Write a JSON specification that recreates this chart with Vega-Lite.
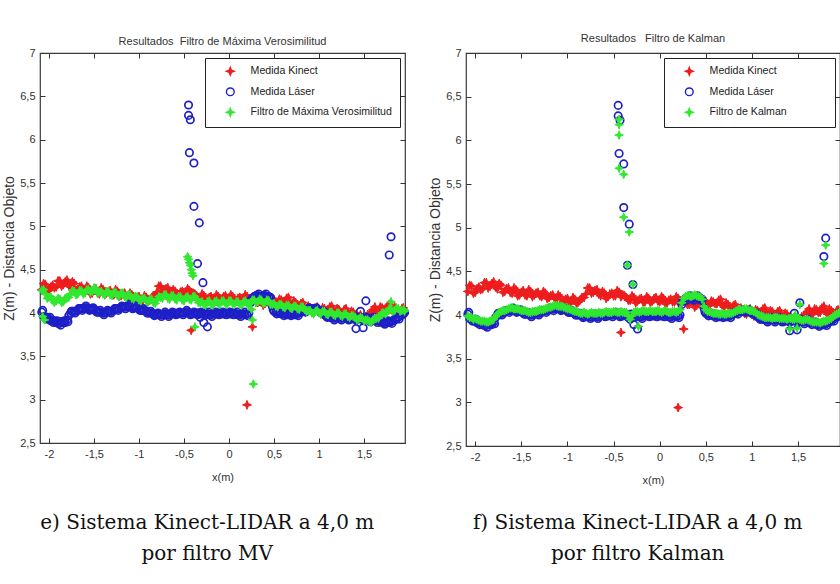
{
"$schema":"https://vega.github.io/schema/vega-lite/v6.json",
"background":"white",
"padding":{"left":2,"top":32,"right":0,"bottom":0},
"config":{
 "view":{"stroke":"#3a3a3a","strokeWidth":1.2},
 "axis":{"grid":false,"domain":false,"labelFont":"Liberation Sans","labelFontSize":11,"labelColor":"#333","tickColor":"#333","tickSize":-5,"labelPadding":10,"titleFontWeight":"normal","titleColor":"#333"},
 "title":{"font":"Liberation Sans","fontSize":11,"fontWeight":"normal","color":"#333"},
 "legend":{"orient":"top-right","offset":5,"fillColor":"white","strokeColor":"#222","padding":8,"labelFont":"Liberation Sans","labelFontSize":10.6,"labelColor":"#222","labelLimit":400,"symbolSize":60,"symbolStrokeWidth":1.4,"rowPadding":6.5,"labelOffset":15,"symbolOffset":12}
},
"datasets":{
"kinect":[{"x":-2.08,"y":4.27,"s":"K"},{"x":-2.04,"y":4.33,"s":"K"},{"x":-2.0,"y":4.26,"s":"K"},{"x":-1.96,"y":4.32,"s":"K"},{"x":-1.92,"y":4.3,"s":"K"},{"x":-1.88,"y":4.37,"s":"K"},{"x":-1.84,"y":4.33,"s":"K"},{"x":-1.8,"y":4.38,"s":"K"},{"x":-1.76,"y":4.3,"s":"K"},{"x":-1.72,"y":4.34,"s":"K"},{"x":-1.68,"y":4.27,"s":"K"},{"x":-1.64,"y":4.31,"s":"K"},{"x":-1.6,"y":4.25,"s":"K"},{"x":-1.56,"y":4.29,"s":"K"},{"x":-1.52,"y":4.23,"s":"K"},{"x":-1.48,"y":4.28,"s":"K"},{"x":-1.44,"y":4.22,"s":"K"},{"x":-1.4,"y":4.27,"s":"K"},{"x":-1.36,"y":4.23,"s":"K"},{"x":-1.32,"y":4.26,"s":"K"},{"x":-1.28,"y":4.21,"s":"K"},{"x":-1.24,"y":4.25,"s":"K"},{"x":-1.2,"y":4.2,"s":"K"},{"x":-1.16,"y":4.23,"s":"K"},{"x":-1.12,"y":4.18,"s":"K"},{"x":-1.08,"y":4.21,"s":"K"},{"x":-1.04,"y":4.15,"s":"K"},{"x":-1.0,"y":4.19,"s":"K"},{"x":-0.96,"y":4.14,"s":"K"},{"x":-0.92,"y":4.18,"s":"K"},{"x":-0.88,"y":4.15,"s":"K"},{"x":-0.84,"y":4.2,"s":"K"},{"x":-0.8,"y":4.24,"s":"K"},{"x":-0.76,"y":4.31,"s":"K"},{"x":-0.72,"y":4.26,"s":"K"},{"x":-0.68,"y":4.29,"s":"K"},{"x":-0.64,"y":4.22,"s":"K"},{"x":-0.6,"y":4.25,"s":"K"},{"x":-0.56,"y":4.21,"s":"K"},{"x":-0.52,"y":4.25,"s":"K"},{"x":-0.48,"y":4.22,"s":"K"},{"x":-0.44,"y":4.26,"s":"K"},{"x":-0.4,"y":4.23,"s":"K"},{"x":-0.36,"y":4.2,"s":"K"},{"x":-0.32,"y":4.17,"s":"K"},{"x":-0.28,"y":4.2,"s":"K"},{"x":-0.24,"y":4.16,"s":"K"},{"x":-0.2,"y":4.19,"s":"K"},{"x":-0.16,"y":4.15,"s":"K"},{"x":-0.12,"y":4.19,"s":"K"},{"x":-0.08,"y":4.16,"s":"K"},{"x":-0.04,"y":4.2,"s":"K"},{"x":0.0,"y":4.15,"s":"K"},{"x":0.04,"y":4.19,"s":"K"},{"x":0.08,"y":4.14,"s":"K"},{"x":0.12,"y":4.18,"s":"K"},{"x":0.16,"y":4.15,"s":"K"},{"x":0.2,"y":4.19,"s":"K"},{"x":0.24,"y":4.14,"s":"K"},{"x":0.28,"y":4.16,"s":"K"},{"x":0.32,"y":4.12,"s":"K"},{"x":0.36,"y":4.15,"s":"K"},{"x":0.4,"y":4.11,"s":"K"},{"x":0.44,"y":4.14,"s":"K"},{"x":0.48,"y":4.1,"s":"K"},{"x":0.52,"y":4.13,"s":"K"},{"x":0.56,"y":4.16,"s":"K"},{"x":0.6,"y":4.13,"s":"K"},{"x":0.64,"y":4.17,"s":"K"},{"x":0.68,"y":4.11,"s":"K"},{"x":0.72,"y":4.14,"s":"K"},{"x":0.76,"y":4.09,"s":"K"},{"x":0.8,"y":4.11,"s":"K"},{"x":0.84,"y":4.06,"s":"K"},{"x":0.88,"y":4.08,"s":"K"},{"x":0.92,"y":4.02,"s":"K"},{"x":0.96,"y":4.05,"s":"K"},{"x":1.0,"y":4.01,"s":"K"},{"x":1.04,"y":4.06,"s":"K"},{"x":1.08,"y":4.03,"s":"K"},{"x":1.12,"y":4.07,"s":"K"},{"x":1.16,"y":4.02,"s":"K"},{"x":1.2,"y":4.05,"s":"K"},{"x":1.24,"y":4.01,"s":"K"},{"x":1.28,"y":4.04,"s":"K"},{"x":1.32,"y":3.99,"s":"K"},{"x":1.36,"y":4.02,"s":"K"},{"x":1.4,"y":3.98,"s":"K"},{"x":1.44,"y":3.96,"s":"K"},{"x":1.48,"y":3.93,"s":"K"},{"x":1.52,"y":3.96,"s":"K"},{"x":1.56,"y":3.99,"s":"K"},{"x":1.6,"y":4.04,"s":"K"},{"x":1.64,"y":4.02,"s":"K"},{"x":1.68,"y":4.07,"s":"K"},{"x":1.72,"y":4.03,"s":"K"},{"x":1.76,"y":4.08,"s":"K"},{"x":1.8,"y":4.04,"s":"K"},{"x":1.84,"y":4.07,"s":"K"},{"x":1.88,"y":4.02,"s":"K"},{"x":1.92,"y":4.05,"s":"K"},{"x":1.95,"y":3.99,"s":"K"},
{"x":-2.06,"y":4.34,"s":"K"},{"x":-2.02,"y":4.25,"s":"K"},{"x":-1.98,"y":4.3,"s":"K"},{"x":-1.94,"y":4.29,"s":"K"},{"x":-1.9,"y":4.37,"s":"K"},{"x":-1.86,"y":4.31,"s":"K"},{"x":-1.82,"y":4.36,"s":"K"},{"x":-1.78,"y":4.32,"s":"K"},{"x":-1.74,"y":4.36,"s":"K"},{"x":-1.7,"y":4.26,"s":"K"},{"x":-1.66,"y":4.3,"s":"K"},{"x":-1.62,"y":4.26,"s":"K"},{"x":-1.58,"y":4.31,"s":"K"},{"x":-1.54,"y":4.22,"s":"K"},{"x":-1.5,"y":4.26,"s":"K"},{"x":-1.46,"y":4.23,"s":"K"},{"x":-1.42,"y":4.29,"s":"K"},{"x":-1.38,"y":4.21,"s":"K"},{"x":-1.34,"y":4.25,"s":"K"},{"x":-1.3,"y":4.22,"s":"K"},{"x":-1.26,"y":4.27,"s":"K"},{"x":-1.22,"y":4.19,"s":"K"},{"x":-1.18,"y":4.22,"s":"K"},{"x":-1.14,"y":4.19,"s":"K"},{"x":-1.1,"y":4.23,"s":"K"},{"x":-1.06,"y":4.14,"s":"K"},{"x":-1.02,"y":4.18,"s":"K"},{"x":-0.98,"y":4.15,"s":"K"},{"x":-0.94,"y":4.2,"s":"K"},{"x":-0.9,"y":4.13,"s":"K"},{"x":-0.86,"y":4.18,"s":"K"},{"x":-0.82,"y":4.2,"s":"K"},{"x":-0.78,"y":4.31,"s":"K"},{"x":-0.74,"y":4.25,"s":"K"},{"x":-0.7,"y":4.28,"s":"K"},{"x":-0.66,"y":4.24,"s":"K"},{"x":-0.62,"y":4.27,"s":"K"},{"x":-0.58,"y":4.19,"s":"K"},{"x":-0.54,"y":4.24,"s":"K"},{"x":-0.5,"y":4.22,"s":"K"},{"x":-0.46,"y":4.28,"s":"K"},{"x":-0.42,"y":4.21,"s":"K"},{"x":-0.38,"y":4.22,"s":"K"},{"x":-0.34,"y":4.17,"s":"K"},{"x":-0.3,"y":4.22,"s":"K"},{"x":-0.26,"y":4.14,"s":"K"},{"x":-0.22,"y":4.18,"s":"K"},{"x":-0.18,"y":4.15,"s":"K"},{"x":-0.14,"y":4.21,"s":"K"},{"x":-0.1,"y":4.14,"s":"K"},{"x":-0.06,"y":4.19,"s":"K"},{"x":-0.02,"y":4.16,"s":"K"},{"x":0.02,"y":4.21,"s":"K"},{"x":0.06,"y":4.13,"s":"K"},{"x":0.1,"y":4.17,"s":"K"},{"x":0.14,"y":4.15,"s":"K"},{"x":0.18,"y":4.21,"s":"K"},{"x":0.22,"y":4.13,"s":"K"},{"x":0.26,"y":4.16,"s":"K"},{"x":0.3,"y":4.12,"s":"K"},{"x":0.34,"y":4.17,"s":"K"},{"x":0.38,"y":4.09,"s":"K"},{"x":0.42,"y":4.13,"s":"K"},{"x":0.46,"y":4.1,"s":"K"},{"x":0.5,"y":4.15,"s":"K"},{"x":0.54,"y":4.11,"s":"K"},{"x":0.58,"y":4.15,"s":"K"},{"x":0.62,"y":4.13,"s":"K"},{"x":0.66,"y":4.18,"s":"K"},{"x":0.7,"y":4.09,"s":"K"},{"x":0.74,"y":4.12,"s":"K"},{"x":0.78,"y":4.08,"s":"K"},{"x":0.82,"y":4.12,"s":"K"},{"x":0.86,"y":4.03,"s":"K"},{"x":0.9,"y":4.06,"s":"K"},{"x":0.94,"y":4.01,"s":"K"},{"x":0.98,"y":4.07,"s":"K"},{"x":1.02,"y":3.99,"s":"K"},{"x":1.06,"y":4.05,"s":"K"},{"x":1.1,"y":4.03,"s":"K"},{"x":1.14,"y":4.08,"s":"K"},{"x":1.18,"y":4.0,"s":"K"},{"x":1.22,"y":4.04,"s":"K"},{"x":1.26,"y":4.0,"s":"K"},{"x":1.3,"y":4.05,"s":"K"},{"x":1.34,"y":3.97,"s":"K"},{"x":1.38,"y":4.01,"s":"K"},{"x":1.42,"y":3.95,"s":"K"},{"x":1.46,"y":3.98,"s":"K"},{"x":1.5,"y":3.91,"s":"K"},{"x":1.54,"y":3.98,"s":"K"},{"x":1.58,"y":4.0,"s":"K"},{"x":1.62,"y":4.07,"s":"K"},{"x":1.66,"y":4.01,"s":"K"},{"x":1.7,"y":4.06,"s":"K"},{"x":1.74,"y":4.03,"s":"K"},{"x":1.78,"y":4.1,"s":"K"},{"x":1.82,"y":4.01,"s":"K"},{"x":1.86,"y":4.05,"s":"K"},{"x":1.9,"y":4.01,"s":"K"},{"x":1.935,"y":4.06,"s":"K"},
{"x":-0.42,"y":3.8,"s":"K"},{"x":0.26,"y":3.84,"s":"K"},{"x":0.2,"y":2.94,"s":"K"}],
"laser":[{"x":-2.08,"y":4.01,"s":"L"},{"x":-2.04,"y":3.95,"s":"L"},{"x":-2.0,"y":3.93,"s":"L"},{"x":-1.96,"y":3.91,"s":"L"},{"x":-1.92,"y":3.89,"s":"L"},{"x":-1.88,"y":3.88,"s":"L"},{"x":-1.84,"y":3.89,"s":"L"},{"x":-1.8,"y":3.92,"s":"L"},{"x":-1.76,"y":4.0,"s":"L"},{"x":-1.72,"y":4.02,"s":"L"},{"x":-1.68,"y":4.03,"s":"L"},{"x":-1.64,"y":4.05,"s":"L"},{"x":-1.6,"y":4.06,"s":"L"},{"x":-1.56,"y":4.05,"s":"L"},{"x":-1.52,"y":4.04,"s":"L"},{"x":-1.48,"y":4.03,"s":"L"},{"x":-1.44,"y":4.01,"s":"L"},{"x":-1.4,"y":4.0,"s":"L"},{"x":-1.36,"y":4.01,"s":"L"},{"x":-1.32,"y":4.02,"s":"L"},{"x":-1.28,"y":4.03,"s":"L"},{"x":-1.24,"y":4.05,"s":"L"},{"x":-1.2,"y":4.06,"s":"L"},{"x":-1.16,"y":4.07,"s":"L"},{"x":-1.12,"y":4.08,"s":"L"},{"x":-1.08,"y":4.07,"s":"L"},{"x":-1.04,"y":4.06,"s":"L"},{"x":-1.0,"y":4.05,"s":"L"},{"x":-0.96,"y":4.03,"s":"L"},{"x":-0.92,"y":4.02,"s":"L"},{"x":-0.88,"y":4.0,"s":"L"},{"x":-0.84,"y":3.99,"s":"L"},{"x":-0.8,"y":3.98,"s":"L"},{"x":-0.76,"y":3.98,"s":"L"},{"x":-0.72,"y":3.99,"s":"L"},{"x":-0.68,"y":3.98,"s":"L"},{"x":-0.64,"y":3.99,"s":"L"},{"x":-0.6,"y":4.0,"s":"L"},{"x":-0.56,"y":3.99,"s":"L"},{"x":-0.52,"y":4.0,"s":"L"},{"x":-0.48,"y":4.01,"s":"L"},{"x":-0.44,"y":4.0,"s":"L"},{"x":-0.4,"y":3.99,"s":"L"},{"x":-0.36,"y":4.0,"s":"L"},{"x":-0.32,"y":3.99,"s":"L"},{"x":-0.28,"y":4.0,"s":"L"},{"x":-0.24,"y":3.99,"s":"L"},{"x":-0.2,"y":3.98,"s":"L"},{"x":-0.16,"y":3.99,"s":"L"},{"x":-0.12,"y":4.0,"s":"L"},{"x":-0.08,"y":3.99,"s":"L"},{"x":-0.04,"y":4.0,"s":"L"},{"x":0.0,"y":3.99,"s":"L"},{"x":0.04,"y":4.0,"s":"L"},{"x":0.08,"y":3.99,"s":"L"},{"x":0.12,"y":3.98,"s":"L"},{"x":0.16,"y":3.99,"s":"L"},{"x":0.2,"y":3.99,"s":"L"},{"x":0.24,"y":4.12,"s":"L"},{"x":0.28,"y":4.19,"s":"L"},{"x":0.32,"y":4.2,"s":"L"},{"x":0.36,"y":4.19,"s":"L"},{"x":0.4,"y":4.2,"s":"L"},{"x":0.44,"y":4.19,"s":"L"},{"x":0.48,"y":4.08,"s":"L"},{"x":0.52,"y":4.01,"s":"L"},{"x":0.56,"y":4.0,"s":"L"},{"x":0.6,"y":3.99,"s":"L"},{"x":0.64,"y":3.98,"s":"L"},{"x":0.68,"y":3.99,"s":"L"},{"x":0.72,"y":3.98,"s":"L"},{"x":0.76,"y":3.99,"s":"L"},{"x":0.8,"y":4.01,"s":"L"},{"x":0.84,"y":4.03,"s":"L"},{"x":0.88,"y":4.04,"s":"L"},{"x":0.92,"y":4.05,"s":"L"},{"x":0.96,"y":4.04,"s":"L"},{"x":1.0,"y":4.03,"s":"L"},{"x":1.04,"y":4.0,"s":"L"},{"x":1.08,"y":3.97,"s":"L"},{"x":1.12,"y":3.95,"s":"L"},{"x":1.16,"y":3.94,"s":"L"},{"x":1.2,"y":3.95,"s":"L"},{"x":1.24,"y":3.94,"s":"L"},{"x":1.28,"y":3.95,"s":"L"},{"x":1.32,"y":3.94,"s":"L"},{"x":1.36,"y":3.93,"s":"L"},{"x":1.4,"y":3.94,"s":"L"},{"x":1.44,"y":3.93,"s":"L"},{"x":1.48,"y":3.94,"s":"L"},{"x":1.52,"y":3.93,"s":"L"},{"x":1.56,"y":3.92,"s":"L"},{"x":1.6,"y":3.93,"s":"L"},{"x":1.64,"y":3.91,"s":"L"},{"x":1.68,"y":3.9,"s":"L"},{"x":1.72,"y":3.89,"s":"L"},{"x":1.76,"y":3.89,"s":"L"},{"x":1.8,"y":3.9,"s":"L"},{"x":1.84,"y":3.92,"s":"L"},{"x":1.88,"y":3.95,"s":"L"},{"x":1.92,"y":3.98,"s":"L"},{"x":1.95,"y":4.01,"s":"L"},
{"x":-2.06,"y":3.96,"s":"L"},{"x":-2.02,"y":3.95,"s":"L"},{"x":-1.98,"y":3.91,"s":"L"},{"x":-1.94,"y":3.91,"s":"L"},{"x":-1.9,"y":3.88,"s":"L"},{"x":-1.86,"y":3.9,"s":"L"},{"x":-1.82,"y":3.89,"s":"L"},{"x":-1.78,"y":3.97,"s":"L"},{"x":-1.74,"y":4.02,"s":"L"},{"x":-1.7,"y":4.02,"s":"L"},{"x":-1.66,"y":4.05,"s":"L"},{"x":-1.62,"y":4.05,"s":"L"},{"x":-1.58,"y":4.06,"s":"L"},{"x":-1.54,"y":4.04,"s":"L"},{"x":-1.5,"y":4.04,"s":"L"},{"x":-1.46,"y":4.01,"s":"L"},{"x":-1.42,"y":4.01,"s":"L"},{"x":-1.38,"y":4.0,"s":"L"},{"x":-1.34,"y":4.02,"s":"L"},{"x":-1.3,"y":4.02,"s":"L"},{"x":-1.26,"y":4.05,"s":"L"},{"x":-1.22,"y":4.05,"s":"L"},{"x":-1.18,"y":4.07,"s":"L"},{"x":-1.14,"y":4.07,"s":"L"},{"x":-1.1,"y":4.08,"s":"L"},{"x":-1.06,"y":4.06,"s":"L"},{"x":-1.02,"y":4.06,"s":"L"},{"x":-0.98,"y":4.03,"s":"L"},{"x":-0.94,"y":4.03,"s":"L"},{"x":-0.9,"y":4.0,"s":"L"},{"x":-0.86,"y":4.0,"s":"L"},{"x":-0.82,"y":3.98,"s":"L"},{"x":-0.78,"y":3.99,"s":"L"},{"x":-0.74,"y":3.98,"s":"L"},{"x":-0.7,"y":3.99,"s":"L"},{"x":-0.66,"y":3.98,"s":"L"},{"x":-0.62,"y":4.0,"s":"L"},{"x":-0.58,"y":3.99,"s":"L"},{"x":-0.54,"y":4.0,"s":"L"},{"x":-0.5,"y":4.0,"s":"L"},{"x":-0.46,"y":4.01,"s":"L"},{"x":-0.42,"y":3.99,"s":"L"},{"x":-0.38,"y":4.0,"s":"L"},{"x":-0.34,"y":4.0,"s":"L"},{"x":-0.3,"y":3.99,"s":"L"},{"x":-0.26,"y":4.0,"s":"L"},{"x":-0.22,"y":3.98,"s":"L"},{"x":-0.18,"y":3.99,"s":"L"},{"x":-0.14,"y":3.99,"s":"L"},{"x":-0.1,"y":4.0,"s":"L"},{"x":-0.06,"y":3.99,"s":"L"},{"x":-0.02,"y":4.0,"s":"L"},{"x":0.02,"y":3.99,"s":"L"},{"x":0.06,"y":4.0,"s":"L"},{"x":0.1,"y":3.98,"s":"L"},{"x":0.14,"y":3.99,"s":"L"},{"x":0.18,"y":3.98,"s":"L"},{"x":0.22,"y":4.0,"s":"L"},{"x":0.26,"y":4.17,"s":"L"},{"x":0.3,"y":4.2,"s":"L"},{"x":0.34,"y":4.19,"s":"L"},{"x":0.38,"y":4.2,"s":"L"},{"x":0.42,"y":4.19,"s":"L"},{"x":0.46,"y":4.18,"s":"L"},{"x":0.5,"y":4.02,"s":"L"},{"x":0.54,"y":4.01,"s":"L"},{"x":0.58,"y":3.99,"s":"L"},{"x":0.62,"y":3.99,"s":"L"},{"x":0.66,"y":3.98,"s":"L"},{"x":0.7,"y":3.99,"s":"L"},{"x":0.74,"y":3.98,"s":"L"},{"x":0.78,"y":4.0,"s":"L"},{"x":0.82,"y":4.02,"s":"L"},{"x":0.86,"y":4.04,"s":"L"},{"x":0.9,"y":4.04,"s":"L"},{"x":0.94,"y":4.05,"s":"L"},{"x":0.98,"y":4.03,"s":"L"},{"x":1.02,"y":4.02,"s":"L"},{"x":1.06,"y":3.98,"s":"L"},{"x":1.1,"y":3.96,"s":"L"},{"x":1.14,"y":3.95,"s":"L"},{"x":1.18,"y":3.94,"s":"L"},{"x":1.22,"y":3.95,"s":"L"},{"x":1.26,"y":3.94,"s":"L"},{"x":1.3,"y":3.95,"s":"L"},{"x":1.34,"y":3.93,"s":"L"},{"x":1.38,"y":3.94,"s":"L"},{"x":1.42,"y":3.93,"s":"L"},{"x":1.46,"y":3.94,"s":"L"},{"x":1.5,"y":3.93,"s":"L"},{"x":1.54,"y":3.93,"s":"L"},{"x":1.58,"y":3.92,"s":"L"},{"x":1.62,"y":3.92,"s":"L"},{"x":1.66,"y":3.91,"s":"L"},{"x":1.7,"y":3.89,"s":"L"},{"x":1.74,"y":3.9,"s":"L"},{"x":1.78,"y":3.89,"s":"L"},{"x":1.82,"y":3.91,"s":"L"},{"x":1.86,"y":3.93,"s":"L"},{"x":1.9,"y":3.97,"s":"L"},{"x":1.94,"y":3.99,"s":"L"},
{"x":-2.07,"y":4.03,"s":"L"},{"x":-2.03,"y":3.93,"s":"L"},{"x":-1.99,"y":3.95,"s":"L"},{"x":-1.95,"y":3.89,"s":"L"},{"x":-1.91,"y":3.91,"s":"L"},{"x":-1.87,"y":3.86,"s":"L"},{"x":-1.83,"y":3.91,"s":"L"},{"x":-1.79,"y":3.9,"s":"L"},{"x":-1.75,"y":4.02,"s":"L"},{"x":-1.71,"y":4.0,"s":"L"},{"x":-1.67,"y":4.05,"s":"L"},{"x":-1.63,"y":4.03,"s":"L"},{"x":-1.59,"y":4.08,"s":"L"},{"x":-1.55,"y":4.03,"s":"L"},{"x":-1.51,"y":4.06,"s":"L"},{"x":-1.47,"y":4.01,"s":"L"},{"x":-1.43,"y":4.03,"s":"L"},{"x":-1.39,"y":3.98,"s":"L"},{"x":-1.35,"y":4.03,"s":"L"},{"x":-1.31,"y":4.0,"s":"L"},{"x":-1.27,"y":4.05,"s":"L"},{"x":-1.23,"y":4.03,"s":"L"},{"x":-1.19,"y":4.08,"s":"L"},{"x":-1.15,"y":4.05,"s":"L"},{"x":-1.11,"y":4.1,"s":"L"},{"x":-1.07,"y":4.05,"s":"L"},{"x":-1.03,"y":4.08,"s":"L"},{"x":-0.99,"y":4.03,"s":"L"},{"x":-0.95,"y":4.05,"s":"L"},{"x":-0.91,"y":4.0,"s":"L"},{"x":-0.87,"y":4.02,"s":"L"},{"x":-0.83,"y":3.97,"s":"L"},{"x":-0.79,"y":4.0,"s":"L"},{"x":-0.75,"y":3.96,"s":"L"},{"x":-0.71,"y":4.01,"s":"L"},{"x":-0.67,"y":3.96,"s":"L"},{"x":-0.63,"y":4.01,"s":"L"},{"x":-0.59,"y":3.98,"s":"L"},{"x":-0.55,"y":4.01,"s":"L"},{"x":-0.51,"y":3.98,"s":"L"},{"x":-0.47,"y":4.03,"s":"L"},{"x":-0.43,"y":3.98,"s":"L"},{"x":-0.39,"y":4.01,"s":"L"},{"x":-0.35,"y":3.98,"s":"L"},{"x":-0.31,"y":4.01,"s":"L"},{"x":-0.27,"y":3.98,"s":"L"},{"x":-0.23,"y":4.01,"s":"L"},{"x":-0.19,"y":3.96,"s":"L"},{"x":-0.15,"y":4.01,"s":"L"},{"x":-0.11,"y":3.98,"s":"L"},{"x":-0.07,"y":4.01,"s":"L"},{"x":-0.03,"y":3.98,"s":"L"},{"x":0.01,"y":4.01,"s":"L"},{"x":0.05,"y":3.98,"s":"L"},{"x":0.09,"y":4.01,"s":"L"},{"x":0.13,"y":3.96,"s":"L"},{"x":0.17,"y":4.01,"s":"L"},{"x":0.21,"y":3.97,"s":"L"},{"x":0.25,"y":4.16,"s":"L"},{"x":0.29,"y":4.17,"s":"L"},{"x":0.33,"y":4.22,"s":"L"},{"x":0.37,"y":4.17,"s":"L"},{"x":0.41,"y":4.22,"s":"L"},{"x":0.45,"y":4.17,"s":"L"},{"x":0.49,"y":4.04,"s":"L"},{"x":0.53,"y":3.99,"s":"L"},{"x":0.57,"y":4.02,"s":"L"},{"x":0.61,"y":3.97,"s":"L"},{"x":0.65,"y":4.0,"s":"L"},{"x":0.69,"y":3.97,"s":"L"},{"x":0.73,"y":4.0,"s":"L"},{"x":0.77,"y":3.97,"s":"L"},{"x":0.81,"y":4.03,"s":"L"},{"x":0.85,"y":4.01,"s":"L"},{"x":0.89,"y":4.06,"s":"L"},{"x":0.93,"y":4.03,"s":"L"},{"x":0.97,"y":4.06,"s":"L"},{"x":1.01,"y":4.01,"s":"L"},{"x":1.05,"y":4.02,"s":"L"},{"x":1.09,"y":3.95,"s":"L"},{"x":1.13,"y":3.97,"s":"L"},{"x":1.17,"y":3.92,"s":"L"},{"x":1.21,"y":3.97,"s":"L"},{"x":1.25,"y":3.92,"s":"L"},{"x":1.29,"y":3.97,"s":"L"},{"x":1.33,"y":3.92,"s":"L"},{"x":1.37,"y":3.95,"s":"L"},{"x":1.41,"y":3.92,"s":"L"},{"x":1.45,"y":3.95,"s":"L"},{"x":1.49,"y":3.92,"s":"L"},{"x":1.53,"y":3.95,"s":"L"},{"x":1.57,"y":3.9,"s":"L"},{"x":1.61,"y":3.95,"s":"L"},{"x":1.65,"y":3.89,"s":"L"},{"x":1.69,"y":3.92,"s":"L"},{"x":1.73,"y":3.87,"s":"L"},{"x":1.77,"y":3.91,"s":"L"},{"x":1.81,"y":3.88,"s":"L"},{"x":1.85,"y":3.94,"s":"L"},{"x":1.89,"y":3.93,"s":"L"},{"x":1.93,"y":4.0,"s":"L"},
{"x":-0.45,"y":6.4,"s":"L"},{"x":-0.45,"y":6.28,"s":"L"},{"x":-0.43,"y":6.23,"s":"L"},{"x":-0.44,"y":5.85,"s":"L"},{"x":-0.39,"y":5.73,"s":"L"},{"x":-0.39,"y":5.23,"s":"L"},{"x":-0.33,"y":5.04,"s":"L"},{"x":-0.35,"y":4.57,"s":"L"},{"x":-0.29,"y":4.35,"s":"L"},{"x":-0.32,"y":3.95,"s":"L"},{"x":-0.28,"y":3.89,"s":"L"},{"x":-0.24,"y":3.84,"s":"L"},{"x":1.41,"y":3.82,"s":"L"},{"x":1.49,"y":3.83,"s":"L"},{"x":1.52,"y":4.14,"s":"L"},{"x":1.46,"y":4.02,"s":"L"},{"x":1.8,"y":4.88,"s":"L"},{"x":1.78,"y":4.67,"s":"L"}],
"mv":[{"x":-2.07,"y":3.96,"s":"F"},{"x":-2.05,"y":3.92,"s":"F"},{"x":-2.08,"y":4.26,"s":"F"},{"x":-2.04,"y":4.22,"s":"F"},{"x":-2.0,"y":4.18,"s":"F"},{"x":-1.96,"y":4.15,"s":"F"},{"x":-1.92,"y":4.14,"s":"F"},{"x":-1.88,"y":4.16,"s":"F"},{"x":-1.84,"y":4.13,"s":"F"},{"x":-1.8,"y":4.18,"s":"F"},{"x":-1.76,"y":4.22,"s":"F"},{"x":-1.72,"y":4.25,"s":"F"},{"x":-1.68,"y":4.22,"s":"F"},{"x":-1.64,"y":4.26,"s":"F"},{"x":-1.6,"y":4.23,"s":"F"},{"x":-1.56,"y":4.27,"s":"F"},{"x":-1.52,"y":4.25,"s":"F"},{"x":-1.48,"y":4.28,"s":"F"},{"x":-1.44,"y":4.24,"s":"F"},{"x":-1.4,"y":4.22,"s":"F"},{"x":-1.36,"y":4.25,"s":"F"},{"x":-1.32,"y":4.21,"s":"F"},{"x":-1.28,"y":4.24,"s":"F"},{"x":-1.24,"y":4.2,"s":"F"},{"x":-1.2,"y":4.23,"s":"F"},{"x":-1.16,"y":4.19,"s":"F"},{"x":-1.12,"y":4.21,"s":"F"},{"x":-1.08,"y":4.17,"s":"F"},{"x":-1.04,"y":4.19,"s":"F"},{"x":-1.0,"y":4.15,"s":"F"},{"x":-0.96,"y":4.17,"s":"F"},{"x":-0.92,"y":4.14,"s":"F"},{"x":-0.88,"y":4.16,"s":"F"},{"x":-0.84,"y":4.12,"s":"F"},{"x":-0.8,"y":4.15,"s":"F"},{"x":-0.76,"y":4.18,"s":"F"},{"x":-0.72,"y":4.21,"s":"F"},{"x":-0.68,"y":4.17,"s":"F"},{"x":-0.64,"y":4.2,"s":"F"},{"x":-0.6,"y":4.16,"s":"F"},{"x":-0.56,"y":4.19,"s":"F"},{"x":-0.52,"y":4.15,"s":"F"},{"x":-0.48,"y":4.18,"s":"F"},{"x":-0.44,"y":4.16,"s":"F"},{"x":-0.4,"y":4.19,"s":"F"},{"x":-0.36,"y":4.16,"s":"F"},{"x":-0.32,"y":4.12,"s":"F"},{"x":-0.28,"y":4.1,"s":"F"},{"x":-0.24,"y":4.13,"s":"F"},{"x":-0.2,"y":4.1,"s":"F"},{"x":-0.16,"y":4.13,"s":"F"},{"x":-0.12,"y":4.11,"s":"F"},{"x":-0.08,"y":4.14,"s":"F"},{"x":-0.04,"y":4.11,"s":"F"},{"x":0.0,"y":4.14,"s":"F"},{"x":0.04,"y":4.11,"s":"F"},{"x":0.08,"y":4.13,"s":"F"},{"x":0.12,"y":4.1,"s":"F"},{"x":0.16,"y":4.13,"s":"F"},{"x":0.2,"y":4.11,"s":"F"},{"x":0.24,"y":4.12,"s":"F"},{"x":0.28,"y":4.15,"s":"F"},{"x":0.32,"y":4.13,"s":"F"},{"x":0.36,"y":4.15,"s":"F"},{"x":0.4,"y":4.12,"s":"F"},{"x":0.44,"y":4.14,"s":"F"},{"x":0.48,"y":4.1,"s":"F"},{"x":0.52,"y":4.08,"s":"F"},{"x":0.56,"y":4.1,"s":"F"},{"x":0.6,"y":4.07,"s":"F"},{"x":0.64,"y":4.09,"s":"F"},{"x":0.68,"y":4.06,"s":"F"},{"x":0.72,"y":4.08,"s":"F"},{"x":0.76,"y":4.05,"s":"F"},{"x":0.8,"y":4.07,"s":"F"},{"x":0.84,"y":4.04,"s":"F"},{"x":0.88,"y":4.03,"s":"F"},{"x":0.92,"y":4.0,"s":"F"},{"x":0.96,"y":4.02,"s":"F"},{"x":1.0,"y":4.0,"s":"F"},{"x":1.04,"y":4.02,"s":"F"},{"x":1.08,"y":3.99,"s":"F"},{"x":1.12,"y":4.01,"s":"F"},{"x":1.16,"y":3.98,"s":"F"},{"x":1.2,"y":4.0,"s":"F"},{"x":1.24,"y":3.97,"s":"F"},{"x":1.28,"y":3.99,"s":"F"},{"x":1.32,"y":3.96,"s":"F"},{"x":1.36,"y":3.97,"s":"F"},{"x":1.4,"y":3.95,"s":"F"},{"x":1.44,"y":3.93,"s":"F"},{"x":1.48,"y":3.94,"s":"F"},{"x":1.52,"y":3.92,"s":"F"},{"x":1.56,"y":3.9,"s":"F"},{"x":1.6,"y":3.92,"s":"F"},{"x":1.64,"y":3.94,"s":"F"},{"x":1.68,"y":3.97,"s":"F"},{"x":1.72,"y":4.0,"s":"F"},{"x":1.76,"y":4.02,"s":"F"},{"x":1.8,"y":4.04,"s":"F"},{"x":1.84,"y":4.03,"s":"F"},{"x":1.88,"y":4.05,"s":"F"},{"x":1.92,"y":4.03,"s":"F"},{"x":1.95,"y":4.02,"s":"F"},
{"x":-2.06,"y":4.27,"s":"F"},{"x":-2.02,"y":4.17,"s":"F"},{"x":-1.98,"y":4.19,"s":"F"},{"x":-1.94,"y":4.12,"s":"F"},{"x":-1.9,"y":4.17,"s":"F"},{"x":-1.86,"y":4.12,"s":"F"},{"x":-1.82,"y":4.17,"s":"F"},{"x":-1.78,"y":4.18,"s":"F"},{"x":-1.74,"y":4.26,"s":"F"},{"x":-1.7,"y":4.21,"s":"F"},{"x":-1.66,"y":4.26,"s":"F"},{"x":-1.62,"y":4.22,"s":"F"},{"x":-1.58,"y":4.27,"s":"F"},{"x":-1.54,"y":4.24,"s":"F"},{"x":-1.5,"y":4.29,"s":"F"},{"x":-1.46,"y":4.23,"s":"F"},{"x":-1.42,"y":4.25,"s":"F"},{"x":-1.38,"y":4.21,"s":"F"},{"x":-1.34,"y":4.25,"s":"F"},{"x":-1.3,"y":4.2,"s":"F"},{"x":-1.26,"y":4.24,"s":"F"},{"x":-1.22,"y":4.19,"s":"F"},{"x":-1.18,"y":4.23,"s":"F"},{"x":-1.14,"y":4.18,"s":"F"},{"x":-1.1,"y":4.21,"s":"F"},{"x":-1.06,"y":4.16,"s":"F"},{"x":-1.02,"y":4.19,"s":"F"},{"x":-0.98,"y":4.14,"s":"F"},{"x":-0.94,"y":4.17,"s":"F"},{"x":-0.9,"y":4.13,"s":"F"},{"x":-0.86,"y":4.16,"s":"F"},{"x":-0.82,"y":4.11,"s":"F"},{"x":-0.78,"y":4.19,"s":"F"},{"x":-0.74,"y":4.17,"s":"F"},{"x":-0.7,"y":4.21,"s":"F"},{"x":-0.66,"y":4.16,"s":"F"},{"x":-0.62,"y":4.2,"s":"F"},{"x":-0.58,"y":4.15,"s":"F"},{"x":-0.54,"y":4.19,"s":"F"},{"x":-0.5,"y":4.14,"s":"F"},{"x":-0.46,"y":4.19,"s":"F"},{"x":-0.42,"y":4.15,"s":"F"},{"x":-0.38,"y":4.19,"s":"F"},{"x":-0.34,"y":4.12,"s":"F"},{"x":-0.3,"y":4.13,"s":"F"},{"x":-0.26,"y":4.09,"s":"F"},{"x":-0.22,"y":4.14,"s":"F"},{"x":-0.18,"y":4.09,"s":"F"},{"x":-0.14,"y":4.14,"s":"F"},{"x":-0.1,"y":4.1,"s":"F"},{"x":-0.06,"y":4.14,"s":"F"},{"x":-0.02,"y":4.1,"s":"F"},{"x":0.02,"y":4.14,"s":"F"},{"x":0.06,"y":4.1,"s":"F"},{"x":0.1,"y":4.13,"s":"F"},{"x":0.14,"y":4.09,"s":"F"},{"x":0.18,"y":4.14,"s":"F"},{"x":0.22,"y":4.1,"s":"F"},{"x":0.26,"y":4.15,"s":"F"},{"x":0.3,"y":4.12,"s":"F"},{"x":0.34,"y":4.16,"s":"F"},{"x":0.38,"y":4.11,"s":"F"},{"x":0.42,"y":4.15,"s":"F"},{"x":0.46,"y":4.1,"s":"F"},{"x":0.5,"y":4.11,"s":"F"},{"x":0.54,"y":4.07,"s":"F"},{"x":0.58,"y":4.1,"s":"F"},{"x":0.62,"y":4.06,"s":"F"},{"x":0.66,"y":4.09,"s":"F"},{"x":0.7,"y":4.05,"s":"F"},{"x":0.74,"y":4.08,"s":"F"},{"x":0.78,"y":4.04,"s":"F"},{"x":0.82,"y":4.07,"s":"F"},{"x":0.86,"y":4.02,"s":"F"},{"x":0.9,"y":4.03,"s":"F"},{"x":0.94,"y":3.99,"s":"F"},{"x":0.98,"y":4.03,"s":"F"},{"x":1.02,"y":3.99,"s":"F"},{"x":1.06,"y":4.02,"s":"F"},{"x":1.1,"y":3.98,"s":"F"},{"x":1.14,"y":4.01,"s":"F"},{"x":1.18,"y":3.97,"s":"F"},{"x":1.22,"y":4.0,"s":"F"},{"x":1.26,"y":3.96,"s":"F"},{"x":1.3,"y":3.99,"s":"F"},{"x":1.34,"y":3.95,"s":"F"},{"x":1.38,"y":3.97,"s":"F"},{"x":1.42,"y":3.92,"s":"F"},{"x":1.46,"y":3.95,"s":"F"},{"x":1.5,"y":3.91,"s":"F"},{"x":1.54,"y":3.92,"s":"F"},{"x":1.58,"y":3.89,"s":"F"},{"x":1.62,"y":3.94,"s":"F"},{"x":1.66,"y":3.94,"s":"F"},{"x":1.7,"y":4.0,"s":"F"},{"x":1.74,"y":3.99,"s":"F"},{"x":1.78,"y":4.05,"s":"F"},{"x":1.82,"y":4.02,"s":"F"},{"x":1.86,"y":4.06,"s":"F"},{"x":1.9,"y":4.02,"s":"F"},{"x":1.94,"y":4.04,"s":"F"},
{"x":-0.46,"y":4.65,"s":"F"},{"x":-0.45,"y":4.62,"s":"F"},{"x":-0.44,"y":4.58,"s":"F"},{"x":-0.43,"y":4.55,"s":"F"},{"x":-0.42,"y":4.5,"s":"F"},{"x":-0.41,"y":4.46,"s":"F"},{"x":-0.4,"y":4.43,"s":"F"},{"x":-0.38,"y":3.84,"s":"F"},{"x":0.25,"y":4.04,"s":"F"},{"x":0.26,"y":3.92,"s":"F"},{"x":0.27,"y":3.18,"s":"F"},{"x":1.8,"y":4.13,"s":"F"}],
"kal":[{"x":-2.08,"y":3.99,"s":"F"},{"x":-2.04,"y":3.97,"s":"F"},{"x":-2.0,"y":3.96,"s":"F"},{"x":-1.96,"y":3.94,"s":"F"},{"x":-1.92,"y":3.93,"s":"F"},{"x":-1.88,"y":3.92,"s":"F"},{"x":-1.84,"y":3.93,"s":"F"},{"x":-1.8,"y":3.95,"s":"F"},{"x":-1.76,"y":4.01,"s":"F"},{"x":-1.72,"y":4.04,"s":"F"},{"x":-1.68,"y":4.05,"s":"F"},{"x":-1.64,"y":4.07,"s":"F"},{"x":-1.6,"y":4.08,"s":"F"},{"x":-1.56,"y":4.07,"s":"F"},{"x":-1.52,"y":4.06,"s":"F"},{"x":-1.48,"y":4.05,"s":"F"},{"x":-1.44,"y":4.04,"s":"F"},{"x":-1.4,"y":4.03,"s":"F"},{"x":-1.36,"y":4.04,"s":"F"},{"x":-1.32,"y":4.05,"s":"F"},{"x":-1.28,"y":4.06,"s":"F"},{"x":-1.24,"y":4.07,"s":"F"},{"x":-1.2,"y":4.09,"s":"F"},{"x":-1.16,"y":4.1,"s":"F"},{"x":-1.12,"y":4.11,"s":"F"},{"x":-1.08,"y":4.1,"s":"F"},{"x":-1.04,"y":4.09,"s":"F"},{"x":-1.0,"y":4.07,"s":"F"},{"x":-0.96,"y":4.06,"s":"F"},{"x":-0.92,"y":4.04,"s":"F"},{"x":-0.88,"y":4.03,"s":"F"},{"x":-0.84,"y":4.02,"s":"F"},{"x":-0.8,"y":4.02,"s":"F"},{"x":-0.76,"y":4.02,"s":"F"},{"x":-0.72,"y":4.02,"s":"F"},{"x":-0.68,"y":4.02,"s":"F"},{"x":-0.64,"y":4.02,"s":"F"},{"x":-0.6,"y":4.03,"s":"F"},{"x":-0.56,"y":4.03,"s":"F"},{"x":-0.52,"y":4.03,"s":"F"},{"x":-0.48,"y":4.04,"s":"F"},{"x":-0.44,"y":4.03,"s":"F"},{"x":-0.4,"y":4.03,"s":"F"},{"x":-0.36,"y":4.03,"s":"F"},{"x":-0.32,"y":3.95,"s":"F"},{"x":-0.28,"y":4.03,"s":"F"},{"x":-0.24,"y":4.04,"s":"F"},{"x":-0.2,"y":4.04,"s":"F"},{"x":-0.16,"y":4.04,"s":"F"},{"x":-0.12,"y":4.04,"s":"F"},{"x":-0.08,"y":4.04,"s":"F"},{"x":-0.04,"y":4.04,"s":"F"},{"x":0.0,"y":4.04,"s":"F"},{"x":0.04,"y":4.04,"s":"F"},{"x":0.08,"y":4.04,"s":"F"},{"x":0.12,"y":4.03,"s":"F"},{"x":0.16,"y":4.04,"s":"F"},{"x":0.2,"y":4.04,"s":"F"},{"x":0.24,"y":4.14,"s":"F"},{"x":0.28,"y":4.21,"s":"F"},{"x":0.32,"y":4.22,"s":"F"},{"x":0.36,"y":4.22,"s":"F"},{"x":0.4,"y":4.22,"s":"F"},{"x":0.44,"y":4.21,"s":"F"},{"x":0.48,"y":4.1,"s":"F"},{"x":0.52,"y":4.04,"s":"F"},{"x":0.56,"y":4.03,"s":"F"},{"x":0.6,"y":4.02,"s":"F"},{"x":0.64,"y":4.01,"s":"F"},{"x":0.68,"y":4.02,"s":"F"},{"x":0.72,"y":4.01,"s":"F"},{"x":0.76,"y":4.02,"s":"F"},{"x":0.8,"y":4.03,"s":"F"},{"x":0.84,"y":4.05,"s":"F"},{"x":0.88,"y":4.06,"s":"F"},{"x":0.92,"y":4.07,"s":"F"},{"x":0.96,"y":4.06,"s":"F"},{"x":1.0,"y":4.05,"s":"F"},{"x":1.04,"y":4.03,"s":"F"},{"x":1.08,"y":4.0,"s":"F"},{"x":1.12,"y":3.98,"s":"F"},{"x":1.16,"y":3.97,"s":"F"},{"x":1.2,"y":3.97,"s":"F"},{"x":1.24,"y":3.97,"s":"F"},{"x":1.28,"y":3.97,"s":"F"},{"x":1.32,"y":3.96,"s":"F"},{"x":1.36,"y":3.96,"s":"F"},{"x":1.4,"y":3.96,"s":"F"},{"x":1.44,"y":3.95,"s":"F"},{"x":1.48,"y":3.96,"s":"F"},{"x":1.52,"y":3.95,"s":"F"},{"x":1.56,"y":3.94,"s":"F"},{"x":1.6,"y":3.95,"s":"F"},{"x":1.64,"y":3.93,"s":"F"},{"x":1.68,"y":3.92,"s":"F"},{"x":1.72,"y":3.92,"s":"F"},{"x":1.76,"y":3.92,"s":"F"},{"x":1.8,"y":3.93,"s":"F"},{"x":1.84,"y":3.95,"s":"F"},{"x":1.88,"y":3.98,"s":"F"},{"x":1.92,"y":4.01,"s":"F"},{"x":1.95,"y":4.03,"s":"F"},
{"x":-2.06,"y":3.97,"s":"F"},{"x":-2.02,"y":3.95,"s":"F"},{"x":-1.98,"y":3.95,"s":"F"},{"x":-1.94,"y":3.93,"s":"F"},{"x":-1.9,"y":3.93,"s":"F"},{"x":-1.86,"y":3.92,"s":"F"},{"x":-1.82,"y":3.94,"s":"F"},{"x":-1.78,"y":3.98,"s":"F"},{"x":-1.74,"y":4.03,"s":"F"},{"x":-1.7,"y":4.05,"s":"F"},{"x":-1.66,"y":4.06,"s":"F"},{"x":-1.62,"y":4.08,"s":"F"},{"x":-1.58,"y":4.07,"s":"F"},{"x":-1.54,"y":4.07,"s":"F"},{"x":-1.5,"y":4.05,"s":"F"},{"x":-1.46,"y":4.05,"s":"F"},{"x":-1.42,"y":4.03,"s":"F"},{"x":-1.38,"y":4.04,"s":"F"},{"x":-1.34,"y":4.04,"s":"F"},{"x":-1.3,"y":4.06,"s":"F"},{"x":-1.26,"y":4.06,"s":"F"},{"x":-1.22,"y":4.08,"s":"F"},{"x":-1.18,"y":4.09,"s":"F"},{"x":-1.14,"y":4.11,"s":"F"},{"x":-1.1,"y":4.1,"s":"F"},{"x":-1.06,"y":4.1,"s":"F"},{"x":-1.02,"y":4.08,"s":"F"},{"x":-0.98,"y":4.07,"s":"F"},{"x":-0.94,"y":4.05,"s":"F"},{"x":-0.9,"y":4.04,"s":"F"},{"x":-0.86,"y":4.02,"s":"F"},{"x":-0.82,"y":4.03,"s":"F"},{"x":-0.78,"y":4.01,"s":"F"},{"x":-0.74,"y":4.03,"s":"F"},{"x":-0.7,"y":4.02,"s":"F"},{"x":-0.66,"y":4.03,"s":"F"},{"x":-0.62,"y":4.02,"s":"F"},{"x":-0.58,"y":4.04,"s":"F"},{"x":-0.54,"y":4.03,"s":"F"},{"x":-0.5,"y":4.04,"s":"F"},{"x":-0.46,"y":4.03,"s":"F"},{"x":-0.42,"y":4.04,"s":"F"},{"x":-0.38,"y":4.03,"s":"F"},{"x":-0.34,"y":3.99,"s":"F"},{"x":-0.3,"y":3.99,"s":"F"},{"x":-0.26,"y":4.04,"s":"F"},{"x":-0.22,"y":4.03,"s":"F"},{"x":-0.18,"y":4.05,"s":"F"},{"x":-0.14,"y":4.04,"s":"F"},{"x":-0.1,"y":4.05,"s":"F"},{"x":-0.06,"y":4.04,"s":"F"},{"x":-0.02,"y":4.05,"s":"F"},{"x":0.02,"y":4.03,"s":"F"},{"x":0.06,"y":4.05,"s":"F"},{"x":0.1,"y":4.03,"s":"F"},{"x":0.14,"y":4.04,"s":"F"},{"x":0.18,"y":4.03,"s":"F"},{"x":0.22,"y":4.06,"s":"F"},{"x":0.26,"y":4.19,"s":"F"},{"x":0.3,"y":4.22,"s":"F"},{"x":0.34,"y":4.21,"s":"F"},{"x":0.38,"y":4.23,"s":"F"},{"x":0.42,"y":4.21,"s":"F"},{"x":0.46,"y":4.18,"s":"F"},{"x":0.5,"y":4.06,"s":"F"},{"x":0.54,"y":4.04,"s":"F"},{"x":0.58,"y":4.02,"s":"F"},{"x":0.62,"y":4.02,"s":"F"},{"x":0.66,"y":4.01,"s":"F"},{"x":0.7,"y":4.01,"s":"F"},{"x":0.74,"y":4.02,"s":"F"},{"x":0.78,"y":4.02,"s":"F"},{"x":0.82,"y":4.04,"s":"F"},{"x":0.86,"y":4.06,"s":"F"},{"x":0.9,"y":4.06,"s":"F"},{"x":0.94,"y":4.07,"s":"F"},{"x":0.98,"y":4.05,"s":"F"},{"x":1.02,"y":4.04,"s":"F"},{"x":1.06,"y":4.01,"s":"F"},{"x":1.1,"y":3.99,"s":"F"},{"x":1.14,"y":3.97,"s":"F"},{"x":1.18,"y":3.97,"s":"F"},{"x":1.22,"y":3.96,"s":"F"},{"x":1.26,"y":3.97,"s":"F"},{"x":1.3,"y":3.96,"s":"F"},{"x":1.34,"y":3.96,"s":"F"},{"x":1.38,"y":3.95,"s":"F"},{"x":1.42,"y":3.96,"s":"F"},{"x":1.46,"y":3.95,"s":"F"},{"x":1.5,"y":3.96,"s":"F"},{"x":1.54,"y":3.94,"s":"F"},{"x":1.58,"y":3.95,"s":"F"},{"x":1.62,"y":3.94,"s":"F"},{"x":1.66,"y":3.92,"s":"F"},{"x":1.7,"y":3.92,"s":"F"},{"x":1.74,"y":3.91,"s":"F"},{"x":1.78,"y":3.93,"s":"F"},{"x":1.82,"y":3.94,"s":"F"},{"x":1.86,"y":3.96,"s":"F"},{"x":1.9,"y":4.0,"s":"F"},{"x":1.94,"y":4.02,"s":"F"},
{"x":-0.44,"y":6.24,"s":"F"},{"x":-0.44,"y":6.18,"s":"F"},{"x":-0.44,"y":6.06,"s":"F"},{"x":-0.44,"y":5.68,"s":"F"},{"x":-0.39,"y":5.61,"s":"F"},{"x":-0.39,"y":5.12,"s":"F"},{"x":-0.33,"y":4.95,"s":"F"},{"x":-0.35,"y":4.57,"s":"F"},{"x":-0.29,"y":4.35,"s":"F"},{"x":-0.23,"y":3.87,"s":"F"},{"x":1.8,"y":4.8,"s":"F"},{"x":1.78,"y":4.59,"s":"F"},{"x":1.52,"y":4.12,"s":"F"},{"x":1.47,"y":4.0,"s":"F"},{"x":1.41,"y":3.84,"s":"F"},{"x":1.49,"y":3.85,"s":"F"}]
},
"spacing":15,
"columns":2,
"align":"none",
"resolve":{"scale":{"fill":"independent","stroke":"independent","shape":"independent"}},
"concat":[
 {"resolve":{"scale":{"fill":"independent","stroke":"independent","shape":"independent"}},
  "title":{"text":["e) Sistema Kinect-LIDAR a 4,0 m","por filtro MV"],"orient":"bottom","anchor":"middle","font":"DejaVu Serif","fontSize":20,"fontWeight":"normal","color":"#111","lineHeight":31,"offset":29.5},
  "vconcat":[
   {"title":{"text":"Resultados\u00a0\u00a0Filtro de Máxima Verosimilitud","offset":0},
    "width":365,"height":390,
    "resolve":{"axis":{"x":"independent","y":"independent"}},
    "layer":[
     {"data":{"name":"kinect"},"mark":{"type":"point","filled":true,"opacity":1,"size":80,"strokeWidth":1},
      "encoding":{
       "x":{"field":"x","type":"quantitative","scale":{"domain":[-2.1,1.955],"nice":false,"zero":false},"axis":{"orient":"bottom","values":[-2,-1.5,-1,-0.5,0,0.5,1,1.5],"labelExpr":"replace(replace(format(datum.value,'.1~f'),'.',','),'\u2212','-')","title":"x(m)","titleFont":"Liberation Sans","titleFontSize":11,"titlePadding":12.5}},
       "y":{"field":"y","type":"quantitative","scale":{"domain":[2.5,7],"nice":false,"zero":false},"axis":{"orient":"left","values":[2.5,3,3.5,4,4.5,5,5.5,6,6.5,7],"labelExpr":"replace(format(datum.value,'.1~f'),'.',',')","title":"Z(m) - Distancia Objeto","titleFont":"Liberation Sans","titleFontSize":14,"titlePadding":3}},
       "fill":{"field":"s","type":"nominal","scale":{"domain":["K","L","F"],"range":["#ee1c1c","transparent","#2fe82f"]},"legend":{"title":null,"labelExpr":"datum.label == 'K' ? 'Medida Kinect' : datum.label == 'L' ? 'Medida Láser' : 'Filtro de Máxima Verosimilitud'"}},
       "stroke":{"field":"s","type":"nominal","scale":{"domain":["K","L","F"],"range":["#ee1c1c","#1f1fc8","#2fe82f"]},"legend":{"title":null,"labelExpr":"datum.label == 'K' ? 'Medida Kinect' : datum.label == 'L' ? 'Medida Láser' : 'Filtro de Máxima Verosimilitud'"}},
       "shape":{"field":"s","type":"nominal","scale":{"domain":["K","L","F"],"range":["M0,-1L0.28,-0.28L1,0L0.28,0.28L0,1L-0.28,0.28L-1,0L-0.28,-0.28Z","circle","M0,-1L0.28,-0.28L1,0L0.28,0.28L0,1L-0.28,0.28L-1,0L-0.28,-0.28Z"]},"legend":{"title":null,"labelExpr":"datum.label == 'K' ? 'Medida Kinect' : datum.label == 'L' ? 'Medida Láser' : 'Filtro de Máxima Verosimilitud'"}}}},
     {"data":{"name":"laser"},"mark":{"type":"point","opacity":1,"size":55,"strokeWidth":1.7},
      "encoding":{
       "x":{"field":"x","type":"quantitative","axis":{"orient":"top","values":[-2,-1.5,-1,-0.5,0,0.5,1,1.5],"labels":false,"title":null}},
       "y":{"field":"y","type":"quantitative","axis":{"orient":"right","values":[2.5,3,3.5,4,4.5,5,5.5,6,6.5,7],"labels":false,"title":null}},
       "fill":{"field":"s","type":"nominal"},
       "stroke":{"field":"s","type":"nominal"},
       "shape":{"field":"s","type":"nominal"}}},
     {"data":{"name":"mv"},"mark":{"type":"point","filled":true,"opacity":1,"size":75,"strokeWidth":1},
      "encoding":{
       "x":{"field":"x","type":"quantitative","axis":null},
       "y":{"field":"y","type":"quantitative","axis":null},
       "fill":{"field":"s","type":"nominal"},
       "stroke":{"field":"s","type":"nominal"},
       "shape":{"field":"s","type":"nominal"}}}
    ]}
  ]},
 {"resolve":{"scale":{"fill":"independent","stroke":"independent","shape":"independent"}},
  "title":{"text":["f) Sistema Kinect-LIDAR a 4,0 m","por filtro Kalman"],"orient":"bottom","anchor":"middle","font":"DejaVu Serif","fontSize":20,"fontWeight":"normal","color":"#111","lineHeight":31,"offset":27},
  "vconcat":[
   {"title":{"text":"Resultados\u00a0\u00a0\u00a0Filtro de Kalman","offset":3},
    "width":374,"height":393,
    "resolve":{"axis":{"x":"independent","y":"independent"}},
    "layer":[
     {"data":{"name":"kinect"},"mark":{"type":"point","filled":true,"opacity":1,"size":80,"strokeWidth":1},
      "encoding":{
       "x":{"field":"x","type":"quantitative","scale":{"domain":[-2.1,1.955],"nice":false,"zero":false},"axis":{"orient":"bottom","values":[-2,-1.5,-1,-0.5,0,0.5,1,1.5],"labelExpr":"replace(replace(format(datum.value,'.1~f'),'.',','),'\u2212','-')","title":"x(m)","titleFont":"Liberation Sans","titleFontSize":11,"titlePadding":12.5}},
       "y":{"field":"y","type":"quantitative","scale":{"domain":[2.5,7],"nice":false,"zero":false},"axis":{"orient":"left","values":[2.5,3,3.5,4,4.5,5,5.5,6,6.5,7],"labelExpr":"replace(format(datum.value,'.1~f'),'.',',')","title":"Z(m) - Distancia Objeto","titleFont":"Liberation Sans","titleFontSize":14,"titlePadding":3}},
       "fill":{"field":"s","type":"nominal","scale":{"domain":["K","L","F"],"range":["#ee1c1c","transparent","#2fe82f"]},"legend":{"title":null,"labelExpr":"datum.label == 'K' ? 'Medida Kinect' : datum.label == 'L' ? 'Medida Láser' : 'Filtro de Kalman\u2800\u2800\u2800\u2800\u2800'"}},
       "stroke":{"field":"s","type":"nominal","scale":{"domain":["K","L","F"],"range":["#ee1c1c","#1f1fc8","#2fe82f"]},"legend":{"title":null,"labelExpr":"datum.label == 'K' ? 'Medida Kinect' : datum.label == 'L' ? 'Medida Láser' : 'Filtro de Kalman\u2800\u2800\u2800\u2800\u2800'"}},
       "shape":{"field":"s","type":"nominal","scale":{"domain":["K","L","F"],"range":["M0,-1L0.28,-0.28L1,0L0.28,0.28L0,1L-0.28,0.28L-1,0L-0.28,-0.28Z","circle","M0,-1L0.28,-0.28L1,0L0.28,0.28L0,1L-0.28,0.28L-1,0L-0.28,-0.28Z"]},"legend":{"title":null,"labelExpr":"datum.label == 'K' ? 'Medida Kinect' : datum.label == 'L' ? 'Medida Láser' : 'Filtro de Kalman\u2800\u2800\u2800\u2800\u2800'"}}}},
     {"data":{"name":"laser"},"mark":{"type":"point","opacity":1,"size":55,"strokeWidth":1.7},
      "encoding":{
       "x":{"field":"x","type":"quantitative","axis":{"orient":"top","values":[-2,-1.5,-1,-0.5,0,0.5,1,1.5],"labels":false,"title":null}},
       "y":{"field":"y","type":"quantitative","axis":{"orient":"right","values":[2.5,3,3.5,4,4.5,5,5.5,6,6.5,7],"labels":false,"title":null}},
       "fill":{"field":"s","type":"nominal"},
       "stroke":{"field":"s","type":"nominal"},
       "shape":{"field":"s","type":"nominal"}}},
     {"data":{"name":"kal"},"mark":{"type":"point","filled":true,"opacity":1,"size":75,"strokeWidth":1},
      "encoding":{
       "x":{"field":"x","type":"quantitative","axis":null},
       "y":{"field":"y","type":"quantitative","axis":null},
       "fill":{"field":"s","type":"nominal"},
       "stroke":{"field":"s","type":"nominal"},
       "shape":{"field":"s","type":"nominal"}}}
    ]}
  ]}
]
}
